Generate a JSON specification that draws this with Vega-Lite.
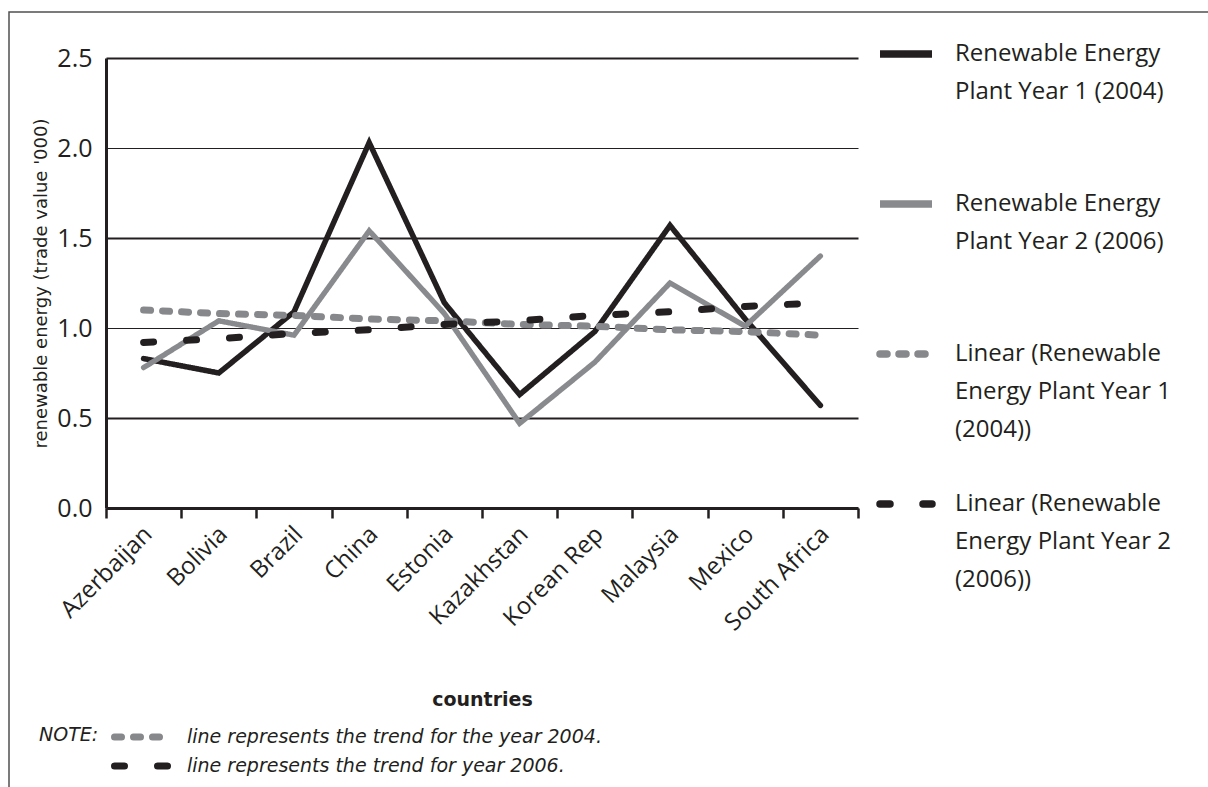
{
  "$schema": "https://vega.github.io/schema/vega-lite/v6.json",
  "width": 1199,
  "height": 775,
  "autosize": {"type": "none"},
  "padding": {"left": 9, "top": 12, "right": 0, "bottom": 0},
  "background": "white",
  "data": {
    "values": [
      {"country": "Azerbaijan", "series": "Renewable Energy Plant Year 1 (2004)", "value": 0.83},
      {"country": "Bolivia", "series": "Renewable Energy Plant Year 1 (2004)", "value": 0.75},
      {"country": "Brazil", "series": "Renewable Energy Plant Year 1 (2004)", "value": 1.09},
      {"country": "China", "series": "Renewable Energy Plant Year 1 (2004)", "value": 2.03},
      {"country": "Estonia", "series": "Renewable Energy Plant Year 1 (2004)", "value": 1.14},
      {"country": "Kazakhstan", "series": "Renewable Energy Plant Year 1 (2004)", "value": 0.63},
      {"country": "Korean Rep", "series": "Renewable Energy Plant Year 1 (2004)", "value": 0.98},
      {"country": "Malaysia", "series": "Renewable Energy Plant Year 1 (2004)", "value": 1.57},
      {"country": "Mexico", "series": "Renewable Energy Plant Year 1 (2004)", "value": 1.05},
      {"country": "South Africa", "series": "Renewable Energy Plant Year 1 (2004)", "value": 0.57},

      {"country": "Azerbaijan", "series": "Renewable Energy Plant Year 2 (2006)", "value": 0.78},
      {"country": "Bolivia", "series": "Renewable Energy Plant Year 2 (2006)", "value": 1.04},
      {"country": "Brazil", "series": "Renewable Energy Plant Year 2 (2006)", "value": 0.96},
      {"country": "China", "series": "Renewable Energy Plant Year 2 (2006)", "value": 1.54},
      {"country": "Estonia", "series": "Renewable Energy Plant Year 2 (2006)", "value": 1.08},
      {"country": "Kazakhstan", "series": "Renewable Energy Plant Year 2 (2006)", "value": 0.47},
      {"country": "Korean Rep", "series": "Renewable Energy Plant Year 2 (2006)", "value": 0.81},
      {"country": "Malaysia", "series": "Renewable Energy Plant Year 2 (2006)", "value": 1.25},
      {"country": "Mexico", "series": "Renewable Energy Plant Year 2 (2006)", "value": 1.01},
      {"country": "South Africa", "series": "Renewable Energy Plant Year 2 (2006)", "value": 1.40},

      {"country": "Azerbaijan", "series": "Linear (Renewable Energy Plant Year 1 (2004))", "note": "line represents the trend  for the year 2004.", "value": 1.10},
      {"country": "Bolivia", "series": "Linear (Renewable Energy Plant Year 1 (2004))", "note": "line represents the trend  for the year 2004.", "value": 1.08},
      {"country": "Brazil", "series": "Linear (Renewable Energy Plant Year 1 (2004))", "note": "line represents the trend  for the year 2004.", "value": 1.07},
      {"country": "China", "series": "Linear (Renewable Energy Plant Year 1 (2004))", "note": "line represents the trend  for the year 2004.", "value": 1.05},
      {"country": "Estonia", "series": "Linear (Renewable Energy Plant Year 1 (2004))", "note": "line represents the trend  for the year 2004.", "value": 1.04},
      {"country": "Kazakhstan", "series": "Linear (Renewable Energy Plant Year 1 (2004))", "note": "line represents the trend  for the year 2004.", "value": 1.02},
      {"country": "Korean Rep", "series": "Linear (Renewable Energy Plant Year 1 (2004))", "note": "line represents the trend  for the year 2004.", "value": 1.01},
      {"country": "Malaysia", "series": "Linear (Renewable Energy Plant Year 1 (2004))", "note": "line represents the trend  for the year 2004.", "value": 0.99},
      {"country": "Mexico", "series": "Linear (Renewable Energy Plant Year 1 (2004))", "note": "line represents the trend  for the year 2004.", "value": 0.98},
      {"country": "South Africa", "series": "Linear (Renewable Energy Plant Year 1 (2004))", "note": "line represents the trend  for the year 2004.", "value": 0.96},

      {"country": "Azerbaijan", "series": "Linear (Renewable Energy Plant Year 2 (2006))", "note": "line represents the trend for year 2006.", "value": 0.92},
      {"country": "Bolivia", "series": "Linear (Renewable Energy Plant Year 2 (2006))", "note": "line represents the trend for year 2006.", "value": 0.94},
      {"country": "Brazil", "series": "Linear (Renewable Energy Plant Year 2 (2006))", "note": "line represents the trend for year 2006.", "value": 0.97},
      {"country": "China", "series": "Linear (Renewable Energy Plant Year 2 (2006))", "note": "line represents the trend for year 2006.", "value": 0.99},
      {"country": "Estonia", "series": "Linear (Renewable Energy Plant Year 2 (2006))", "note": "line represents the trend for year 2006.", "value": 1.02},
      {"country": "Kazakhstan", "series": "Linear (Renewable Energy Plant Year 2 (2006))", "note": "line represents the trend for year 2006.", "value": 1.04},
      {"country": "Korean Rep", "series": "Linear (Renewable Energy Plant Year 2 (2006))", "note": "line represents the trend for year 2006.", "value": 1.07},
      {"country": "Malaysia", "series": "Linear (Renewable Energy Plant Year 2 (2006))", "note": "line represents the trend for year 2006.", "value": 1.09},
      {"country": "Mexico", "series": "Linear (Renewable Energy Plant Year 2 (2006))", "note": "line represents the trend for year 2006.", "value": 1.12},
      {"country": "South Africa", "series": "Linear (Renewable Energy Plant Year 2 (2006))", "note": "line represents the trend for year 2006.", "value": 1.14}
    ]
  },
  "encoding": {
    "x": {
      "field": "country",
      "type": "nominal",
      "sort": null,
      "title": "countries",
      "scale": {"type": "band", "range": [97, 849], "paddingInner": 0, "paddingOuter": 0},
      "axis": {
        "offset": -279,
        "labelAngle": -45,
        "labelFont": "Open Sans",
        "labelFontSize": 24,
        "labelColor": "#231f20",
        "labelPadding": 4,
        "labelOffset": -4,
        "labelLimit": 300,
        "tickBand": "extent",
        "tickSize": 10,
        "tickWidth": 2.5,
        "tickColor": "#231f20",
        "domainColor": "#231f20",
        "domainWidth": 3,
        "grid": false,
        "titleFont": "DejaVu Sans",
        "titleFontWeight": "bold",
        "titleFontSize": 19,
        "titleColor": "#231f20",
        "titlePadding": 56
      }
    },
    "y": {
      "field": "value",
      "type": "quantitative",
      "title": "renewable energy (trade value '000)",
      "scale": {"domain": [0, 2.5], "range": [496, 46], "nice": false, "zero": true},
      "axis": {
        "offset": -97,
        "values": [0, 0.5, 1, 1.5, 2, 2.5],
        "format": ".1f",
        "ticks": false,
        "labelFont": "Open Sans",
        "labelFontSize": 25,
        "labelColor": "#231f20",
        "labelPadding": 14,
        "domainColor": "#231f20",
        "domainWidth": 3,
        "grid": true,
        "gridColor": "#231f20",
        "gridOpacity": 1,
        "gridWidth": {"condition": {"test": "datum.value % 1 === 0", "value": 1.2}, "value": 2.2},
        "titleFont": "DejaVu Sans",
        "titleFontWeight": "normal",
        "titleFontSize": 18,
        "titleColor": "#231f20",
        "titlePadding": 6
      }
    }
  },
  "layer": [
    {
      "mark": {"type": "line", "strokeCap": "round", "strokeJoin": "miter"},
      "encoding": {
        "color": {
          "field": "series",
          "type": "nominal",
          "scale": {
            "domain": [
              "Renewable Energy Plant Year 1 (2004)",
              "Renewable Energy Plant Year 2 (2006)",
              "Linear (Renewable Energy Plant Year 1 (2004))",
              "Linear (Renewable Energy Plant Year 2 (2006))"
            ],
            "range": ["#231f20", "#898a8d", "#87888b", "#231f20"]
          },
          "legend": {
            "orient": "none",
            "legendX": 867,
            "legendY": 12,
            "title": null,
            "direction": "vertical",
            "padding": 0,
            "symbolType": "stroke",
            "symbolSize": 2704,
            "symbolStrokeWidth": 7.5,
            "labelFont": "Open Sans",
            "labelFontSize": 24,
            "labelColor": "#231f20",
            "labelOffset": 19,
            "labelLimit": 400,
            "labelBaseline": "middle",
            "rowPadding": 32,
            "labelExpr": "datum.label == 'Renewable Energy Plant Year 1 (2004)' ? ['Renewable Energy', 'Plant Year 1 (2004)', ' '] : datum.label == 'Renewable Energy Plant Year 2 (2006)' ? ['Renewable Energy', 'Plant Year 2 (2006)', ' '] : datum.label == 'Linear (Renewable Energy Plant Year 1 (2004))' ? ['Linear (Renewable', 'Energy Plant Year 1', '(2004))'] : ['Linear (Renewable', 'Energy Plant Year 2', '(2006))']",
            "encode": {
              "labels": {"update": {"lineHeight": {"value": 38}}},
              "symbols": {
                "update": {
                  "strokeWidth": {"value": 7.5},
                  "strokeCap": {"signal": "indexof(datum.value, 'Linear') == 0 ? 'round' : 'butt'"}
                }
              }
            }
          }
        },
        "strokeDash": {
          "field": "series",
          "type": "nominal",
          "scale": {
            "domain": [
              "Renewable Energy Plant Year 1 (2004)",
              "Renewable Energy Plant Year 2 (2006)",
              "Linear (Renewable Energy Plant Year 1 (2004))",
              "Linear (Renewable Energy Plant Year 2 (2006))"
            ],
            "range": [[1, 0], [1, 0], [7, 12], [10, 33]]
          }
        },
        "strokeWidth": {
          "field": "series",
          "type": "nominal",
          "scale": {
            "domain": [
              "Renewable Energy Plant Year 1 (2004)",
              "Renewable Energy Plant Year 2 (2006)",
              "Linear (Renewable Energy Plant Year 1 (2004))",
              "Linear (Renewable Energy Plant Year 2 (2006))"
            ],
            "range": [5.5, 5, 7, 7]
          }
        }
      }
    },
    {
      "transform": [{"filter": "datum.note != null"}],
      "mark": {"type": "line", "strokeCap": "round", "strokeWidth": 7},
      "encoding": {
        "color": {
          "field": "note",
          "type": "nominal",
          "scale": {
            "domain": ["line represents the trend  for the year 2004.", "line represents the trend for year 2006."],
            "range": ["#87888b", "#231f20"]
          },
          "legend": {
            "orient": "none",
            "legendX": 30,
            "legendY": 714,
            "title": "NOTE:",
            "titleOrient": "left",
            "titleAnchor": "start",
            "titleFont": "DejaVu Sans",
            "titleFontStyle": "italic",
            "titleFontWeight": "normal",
            "titleFontSize": 19,
            "titleColor": "#231f20",
            "titlePadding": 12,
            "direction": "vertical",
            "padding": 0,
            "symbolType": "stroke",
            "symbolSize": 3249,
            "symbolStrokeWidth": 7,
            "clipHeight": 22,
            "labelFont": "DejaVu Sans",
            "labelFontStyle": "italic",
            "labelFontSize": 19,
            "labelColor": "#231f20",
            "labelOffset": 12,
            "labelLimit": 600,
            "rowPadding": 7,
            "encode": {
              "symbols": {"update": {"strokeCap": {"value": "round"}}}
            }
          }
        },
        "strokeDash": {
          "field": "note",
          "type": "nominal",
          "scale": {
            "domain": ["line represents the trend  for the year 2004.", "line represents the trend for year 2006."],
            "range": [[7, 12], [10, 33]]
          }
        }
      }
    }
  ],
  "resolve": {
    "scale": {"color": "independent", "strokeDash": "independent"}
  },
  "config": {
    "view": {"stroke": "#505050", "strokeWidth": 1.5, "strokeDash": [1199, 1974, 775]},
    "font": "DejaVu Sans"
  }
}
